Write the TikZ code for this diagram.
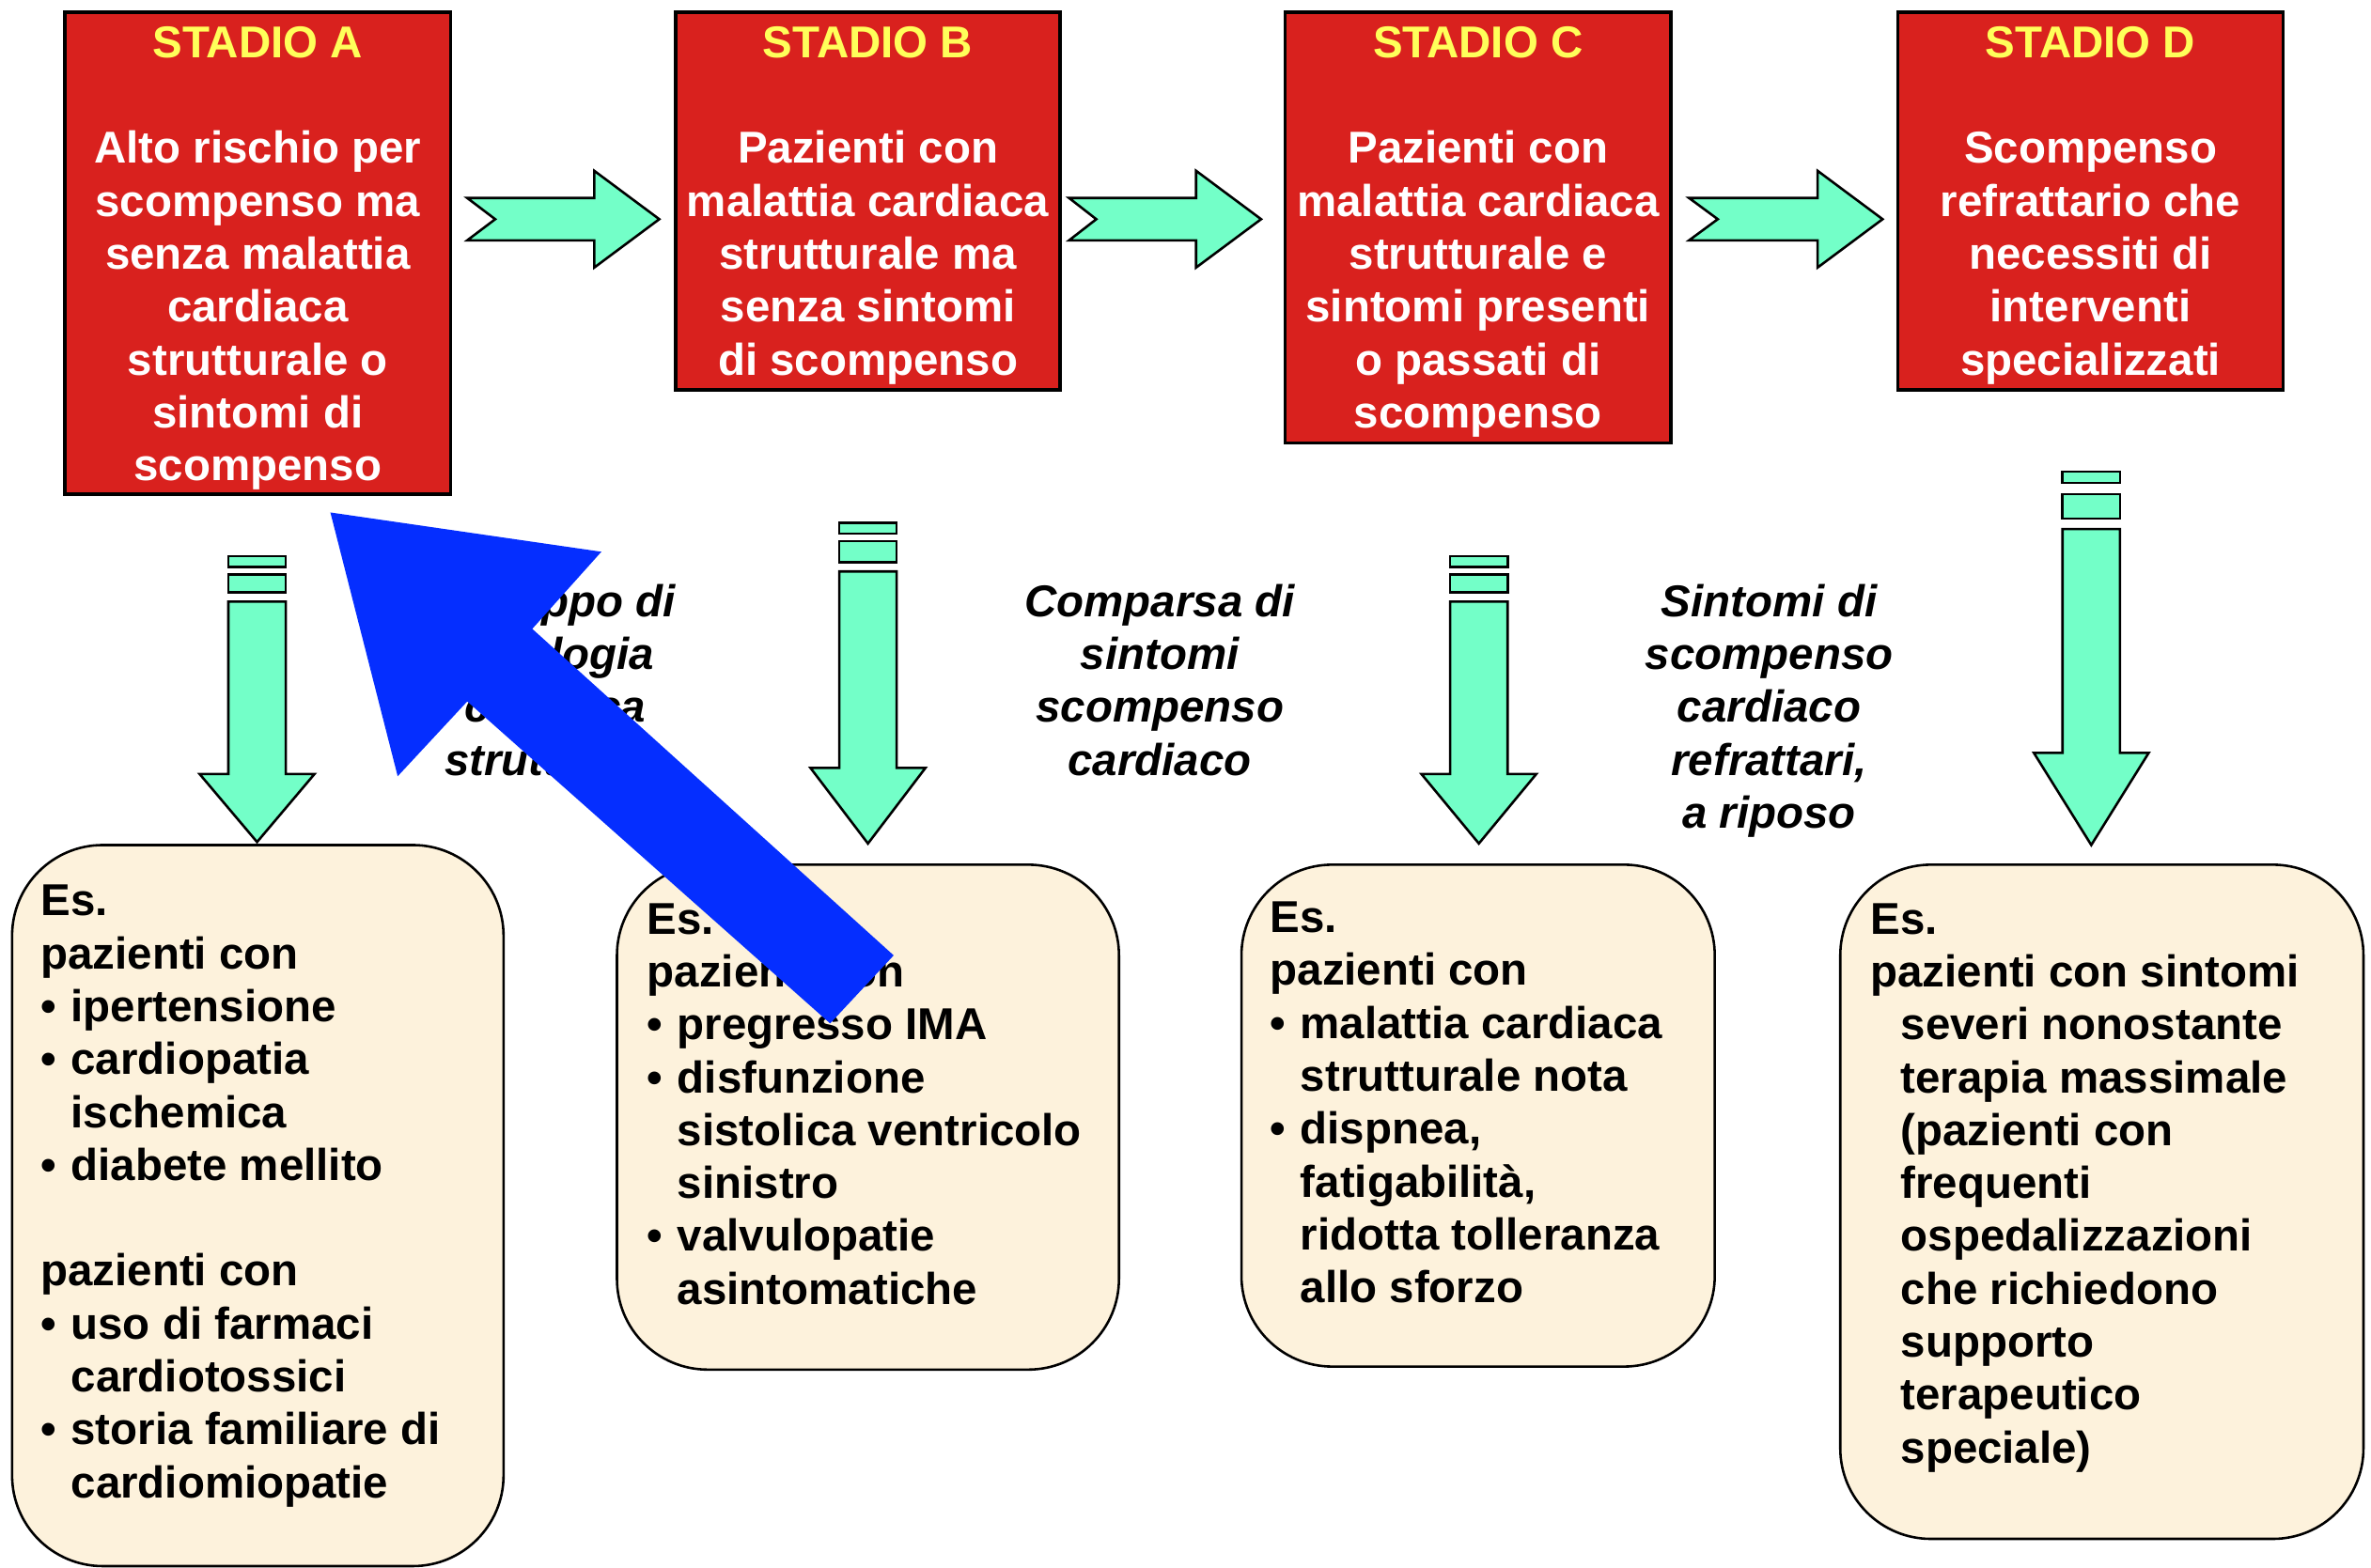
\documentclass[tikz,border=0pt]{standalone}
\usepackage{fontspec}
\setmainfont{Liberation Sans}
\definecolor{boxred}{RGB}{217,33,30}
\definecolor{ttlyellow}{RGB}{255,255,90}
\definecolor{aquagreen}{RGB}{115,255,200}
\definecolor{cream}{RGB}{253,242,220}
\definecolor{arrowblue}{RGB}{5,46,255}
\newcommand\myfont{\fontsize{14.75pt}{17.5pt}\selectfont\bfseries}
\newcommand\bl{\makebox[10pt][l]{\textbullet}}
\newcommand\ind{\hspace*{10pt}}
% vertical block arrow: cx, bar1 top, bar1 bottom, bar2 top, bar2 bottom, shaft top, head base, tip
\newcommand\greenDown[8]{%
  \draw[greenarrow] (#1-19,#2) rectangle (#1+19,#3);
  \draw[greenarrow] (#1-19,#4) rectangle (#1+19,#5);
  \draw[greenarrow] (#1-19,#6) -- (#1+19,#6) -- (#1+19,#7) -- (#1+38,#7) -- (#1,#8) -- (#1-38,#7) -- (#1-19,#7) -- cycle;
}
% horizontal notched arrow: tail, notch, head base, tip, cy
\newcommand\greenRight[5]{%
  \draw[greenarrow] (#1,#5-14) -- (#3,#5-14) -- (#3,#5-32) -- (#4,#5) -- (#3,#5+32) -- (#3,#5+14) -- (#1,#5+14) -- (#2,#5) -- cycle;
}
\begin{document}
\begin{tikzpicture}[x=0.5pt,y=-0.5pt,
  every node/.style={inner sep=0pt,outer sep=0pt},
  stagebox/.style={draw=black,line width=1.1pt,fill=boxred,anchor=north west},
  stagetext/.style={anchor=north,align=center,text=white,font=\myfont},
  exbox/.style={draw=black,line width=0.8pt,fill=cream,anchor=north west,rounded corners=30pt},
  extext/.style={anchor=north west,align=left,font=\myfont},
  lbl/.style={anchor=north,align=center,font=\myfont\itshape},
  greenarrow/.style={draw=black,line width=0.8pt,fill=aquagreen,line join=miter}]
\useasboundingbox (0,0) rectangle (1568,1037);
\fill[white] (0,0) rectangle (1568,1037);

% stage boxes
\node[stagebox,minimum width=127.5pt,minimum height=159.5pt] (A) at (43,8) {};
\node[stagebox,minimum width=127pt,minimum height=125pt] (B) at (447,8) {};
\node[stagebox,minimum width=127.5pt,minimum height=142.5pt] (C) at (850,8) {};
\node[stagebox,minimum width=127.5pt,minimum height=125pt] (D) at (1255,8) {};

\node[stagetext] (Atext) at (170.5,17.5) {{\color{ttlyellow}STADIO A}\\[17.5pt]Alto rischio per\\scompenso ma\\senza malattia\\cardiaca\\strutturale o\\sintomi di\\scompenso};
\node[stagetext] (Btext) at (574,17.5) {{\color{ttlyellow}STADIO B}\\[17.5pt]Pazienti con\\malattia cardiaca\\strutturale ma\\senza sintomi\\di scompenso};
\node[stagetext] (Ctext) at (977.5,17.5) {{\color{ttlyellow}STADIO C}\\[17.5pt]Pazienti con\\malattia cardiaca\\strutturale e\\sintomi presenti\\o passati di\\scompenso};
\node[stagetext] (Dtext) at (1382.5,17.5) {{\color{ttlyellow}STADIO D}\\[17.5pt]Scompenso\\refrattario che\\necessiti di\\interventi\\specializzati};

% horizontal arrows
\greenRight{309}{327.5}{393}{436}{145}
\greenRight{707}{725}{791}{834}{145}
\greenRight{1117}{1136}{1202}{1245}{145}

% vertical arrows
\greenDown{170}{368}{375}{380}{392}{398}{512}{557}
\greenDown{574}{346}{353}{358}{372}{378}{508}{558}
\greenDown{978}{368}{375}{380}{392}{398}{512}{558}
\greenDown{1383}{312}{319.5}{327}{343}{350}{498}{559}

% transition labels
\node[lbl] (L1) at (367,386.5) {Sviluppo di\\patologia\\cardiaca\\strutturale};
\node[lbl] (L2) at (767,386.5) {Comparsa di\\sintomi\\scompenso\\cardiaco};
\node[lbl] (L3) at (1170,386.5) {Sintomi di\\scompenso\\cardiaco\\refrattari,\\a riposo};

% example boxes
\node[exbox,minimum width=162.5pt,minimum height=238.5pt] (E1) at (8,559) {};
\node[exbox,minimum width=166pt,minimum height=167pt] (E2) at (408,572) {};
\node[exbox,minimum width=156.5pt,minimum height=166pt] (E3) at (821,572) {};
\node[exbox,minimum width=173pt,minimum height=223pt] (E4) at (1217,572) {};

\node[extext] (E1text) at (27,585.5) {Es.\\pazienti con\\\bl ipertensione\\\bl cardiopatia\\\ind ischemica\\\bl diabete mellito\\[17.5pt]pazienti con\\\bl uso di farmaci\\\ind cardiotossici\\\bl storia familiare di\\\ind cardiomiopatie};
\node[extext] (E2text) at (428,597.5) {Es.\\pazienti con\\\bl pregresso IMA\\\bl disfunzione\\\ind sistolica ventricolo\\\ind sinistro\\\bl valvulopatie\\\ind asintomatiche};
\node[extext] (E3text) at (840,596.5) {Es.\\pazienti con\\\bl malattia cardiaca\\\ind strutturale nota\\\bl dispnea,\\\ind fatigabilità,\\\ind ridotta tolleranza\\\ind allo sforzo};
\node[extext] (E4text) at (1237,597.5) {Es.\\pazienti con sintomi\\\ind severi nonostante\\\ind terapia massimale\\\ind (pazienti con\\\ind frequenti\\\ind ospedalizzazioni\\\ind che richiedono\\\ind supporto\\\ind terapeutico\\\ind speciale)};

% big blue arrow
\fill[arrowblue] (218.5,339) -- (397.7,365) -- (352,416) -- (591,632) -- (549,677) -- (309,464) -- (263,513.5) -- cycle;
\end{tikzpicture}
\end{document}
